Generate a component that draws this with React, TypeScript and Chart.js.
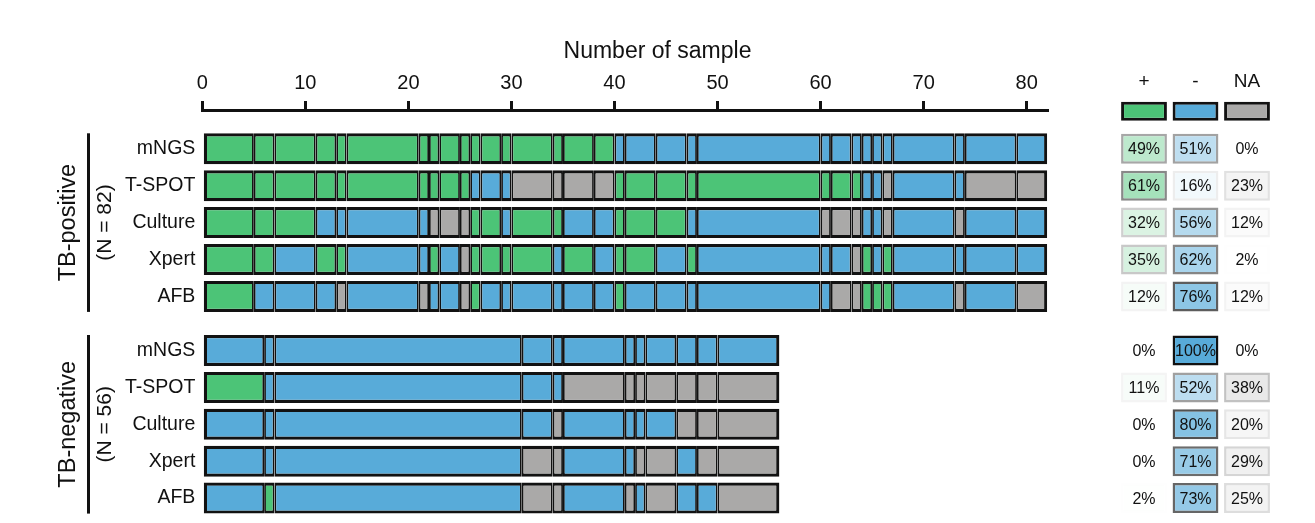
import React, { useEffect, useRef } from "react";
import { Chart, registerables } from "chart.js";

Chart.register(...registerables);

// ---------------- data ----------------
const tests = ["mNGS", "T-SPOT", "Culture", "Xpert", "AFB"];
const groupNames = ["TB-positive", "TB-negative"];
const groupSizes = [82, 56];
const xTickValues = [0, 10, 20, 30, 40, 50, 60, 70, 80];
const resultKeys = ["P", "N", "A"]; // positive, negative, not available
const resultLabels = ["+", "-", "NA"];

// widths (number of samples) of each column block, TB-positive group
const positiveWidths = [5, 2, 4, 2, 1, 7, 1, 1, 2, 1, 1, 2, 1, 4, 1, 3, 2, 1, 3, 3, 1, 12, 1, 2, 1, 1, 1, 1, 6, 1, 5, 3];
// result of each block per test (P = +, N = -, A = NA)
const positiveResults = [
  "PPPPP PPPPP PPPPP PP NNNNN NNNNN NNNNN",
  "PPPPP PPPPP NNN AAAA PPPPP PPP NN A NN AA",
  "PPP NNNN AAA PP N PP NN PPP NN AAA NN A N A NN",
  "PP N PP NN P N A PPPP N P N PP N P NNN A P N P NNNN",
  "P NNN A N A NN A P NNNNNN P NNNNN AA PPP N A N A",
];
const negativeWidths = [6, 1, 24, 3, 1, 6, 1, 1, 3, 2, 2, 6];
const negativeResults = [
  "NNNNNNNNNNNN",
  "P NNNN AAAAAAA",
  "NNNN A NNNN AAA",
  "NNN AA NN AA N AA",
  "N P N AA N A N A NN A",
];
// percentages shown in the table: [+, -, NA]
const positivePercent = [
  [49, 51, 0],
  [61, 16, 23],
  [32, 56, 12],
  [35, 62, 2],
  [12, 76, 12],
];
const negativePercent = [
  [0, 100, 0],
  [11, 52, 38],
  [0, 80, 20],
  [0, 71, 29],
  [2, 73, 25],
];

// ---------------- style / layout ----------------
const W = 1315;
const H = 523;
const FONT = "Arial, 'Liberation Sans', Helvetica, sans-serif";
const INK = "#111111";
const EDGE = "#121212";
const resultColors: Record<string, string> = { P: "#4cc477", N: "#58abd9", A: "#aaa9a8" };

const AREA_TOP = 110;
const AREA_LEFT = 202.3;
const AREA_RIGHT = 1047.3;
const ROW_PX = 36.9;
const ROW0_PX = 148.8;
const GROUP_GAP = 0.466;
const BAR_PX = 31;
const OUTER_EDGE = 3.2;
const INNER_EDGE = 1.8;
const TITLE_SIZE = 23;
const TITLE_PAD_TOP = 38.2;
const TITLE_PAD_BOTTOM = 4;

const TABLE_LEFT = 1100;
const TABLE_W = 215;
const TABLE_TOP = 96;
const TABLE_AREA_LEFT = 18.25;
const TABLE_AREA_RIGHT = 172.75;
const CELL_PX = 30;
const SWATCH_PX = 19;
const SWATCH_ROW = -1.02;
const CELL_FILL = 0.89;

const groups = [
  { widths: positiveWidths, results: positiveResults, pct: positivePercent },
  { widths: negativeWidths, results: negativeResults, pct: negativePercent },
];

const rowPos = (g: number, i: number) => g * (tests.length + GROUP_GAP) + i;
const rowValues: number[] = [];
const rowLabels: string[] = [];
groups.forEach((_, g) =>
  tests.forEach((t, i) => {
    rowValues.push(rowPos(g, i));
    rowLabels.push(t);
  })
);

const yMin = -(ROW0_PX - AREA_TOP) / ROW_PX;
const yMax = yMin + (H - AREA_TOP) / ROW_PX;
const tMin = -(ROW0_PX - TABLE_TOP) / ROW_PX;
const tMax = tMin + (H - TABLE_TOP) / ROW_PX;

// segments of the main chart
const segments: any[] = [];
groups.forEach((grp, g) => {
  grp.results.forEach((resStr, i) => {
    const res = resStr.replace(/\s/g, "");
    let start = 0;
    grp.widths.forEach((w, j) => {
      const end = start + w;
      segments.push({ x: [start, end], y: rowPos(g, i), r: res[j], total: groupSizes[g] });
      start = end;
    });
  });
});

// table cells
const cells: any[] = [];
groups.forEach((grp, g) => {
  grp.pct.forEach((row, i) => {
    row.forEach((v, c) => {
      cells.push({
        x: [c + (1 - CELL_FILL) / 2, c + (1 + CELL_FILL) / 2],
        y: rowPos(g, i),
        v,
        k: resultKeys[c],
      });
    });
  });
});
const swatches = resultKeys.map((k, c) => ({
  x: [c + (1 - CELL_FILL) / 2, c + (1 + CELL_FILL) / 2],
  y: SWATCH_ROW,
  k,
}));

const shade = (v: number) => Math.pow(Math.max(0, v) / 100, 1.4);
const tint = (hex: string, a: number) => {
  const n = parseInt(hex.slice(1), 16);
  const r = (n >> 16) & 255, g = (n >> 8) & 255, b = n & 255;
  const m = (c: number) => Math.round(255 - (255 - c) * a);
  return `rgb(${m(r)},${m(g)},${m(b)})`;
};
const edgeGray = (a: number) => {
  const l = Math.round(255 - 238 * a);
  return `rgb(${l},${l},${l})`;
};

// group labels at the left
const groupLabelPlugin = {
  id: "groupLabels",
  afterDraw(chart: any) {
    const ctx = chart.ctx;
    const ys = chart.scales.y;
    const left = chart.chartArea.left;
    groups.forEach((_, g) => {
      const top = ys.getPixelForValue(rowPos(g, 0)) - BAR_PX / 2;
      const bottom = ys.getPixelForValue(rowPos(g, tests.length - 1)) + BAR_PX / 2;
      const mid = (top + bottom) / 2;
      ctx.save();
      ctx.strokeStyle = INK;
      ctx.lineWidth = 3;
      ctx.beginPath();
      ctx.moveTo(left - 113.8, top);
      ctx.lineTo(left - 113.8, bottom);
      ctx.stroke();
      ctx.fillStyle = INK;
      ctx.textAlign = "center";
      ctx.textBaseline = "alphabetic";
      ctx.save();
      ctx.translate(left - 127.3, mid);
      ctx.rotate(-Math.PI / 2);
      ctx.font = `23.5px ${FONT}`;
      ctx.fillText(groupNames[g], 0, 0);
      ctx.restore();
      ctx.save();
      ctx.translate(left - 91.8, mid);
      ctx.rotate(-Math.PI / 2);
      ctx.font = `21px ${FONT}`;
      ctx.fillText(`(N = ${groupSizes[g]})`, 0, 0);
      ctx.restore();
      ctx.restore();
    });
  },
};

const cellTextPlugin = {
  id: "cellText",
  afterDatasetsDraw(chart: any) {
    const ctx = chart.ctx;
    const meta = chart.getDatasetMeta(0);
    const data = chart.data.datasets[0].data as any[];
    ctx.save();
    ctx.font = `16px ${FONT}`;
    ctx.fillStyle = INK;
    ctx.textAlign = "center";
    ctx.textBaseline = "middle";
    meta.data.forEach((el: any, i: number) => {
      const p = el.getCenterPoint();
      ctx.fillText(`${data[i].v}%`, p.x, p.y + 1);
    });
    ctx.restore();
  },
};

const noPad = (s: any) => {
  s.paddingTop = 0;
  s.paddingBottom = 0;
};

export default function App() {
  const mainRef = useRef<HTMLCanvasElement>(null);
  const tableRef = useRef<HTMLCanvasElement>(null);

  useEffect(() => {
    document.body.style.margin = "0";
    const titleBox = TITLE_PAD_TOP + TITLE_SIZE * 1.2 + TITLE_PAD_BOTTOM;

    const main = new Chart(mainRef.current as HTMLCanvasElement, {
      type: "bar",
      data: {
        datasets: [
          {
            data: segments,
            xAxisID: "x",
            yAxisID: "y",
            grouped: false,
            barPercentage: 1,
            categoryPercentage: 1,
            maxBarThickness: BAR_PX,
            inflateAmount: 0,
            borderSkipped: false,
            backgroundColor: (c: any) => (c.raw ? resultColors[c.raw.r] : "#ccc"),
            borderColor: EDGE,
            borderWidth: (c: any) =>
              c.raw
                ? {
                    top: OUTER_EDGE,
                    bottom: OUTER_EDGE,
                    left: c.raw.x[0] === 0 ? OUTER_EDGE : INNER_EDGE,
                    right: c.raw.x[1] === c.raw.total ? OUTER_EDGE : INNER_EDGE,
                  }
                : INNER_EDGE,
          } as any,
        ],
      },
      options: {
        indexAxis: "y",
        responsive: false,
        animation: false,
        devicePixelRatio: 1,
        events: [],
        layout: { padding: 0 },
        plugins: {
          legend: { display: false },
          tooltip: { enabled: false },
          title: {
            display: true,
            text: "Number of sample",
            color: INK,
            font: { family: FONT, size: TITLE_SIZE, weight: "normal" },
            padding: { top: TITLE_PAD_TOP, bottom: TITLE_PAD_BOTTOM },
          },
        },
        scales: {
          x: {
            type: "linear",
            position: "top",
            offset: false,
            min: 0,
            max: groupSizes[0],
            afterBuildTicks: (s: any) => {
              s.ticks = xTickValues.map((v) => ({ value: v }));
            },
            ticks: {
              color: INK,
              font: { family: FONT, size: 20 },
              padding: 6,
              maxRotation: 0,
              autoSkip: false,
            },
            grid: {
              drawOnChartArea: false,
              drawTicks: true,
              tickLength: 9,
              lineWidth: 3,
              color: INK,
            },
            border: { display: true, width: 3, color: INK },
            afterFit: (s: any) => {
              s.height = AREA_TOP - titleBox;
            },
          },
          y: {
            type: "linear",
            position: "left",
            offset: false,
            reverse: true,
            min: yMin,
            max: yMax,
            afterBuildTicks: (s: any) => {
              s.ticks = rowValues.map((v) => ({ value: v }));
            },
            ticks: {
              color: INK,
              font: { family: FONT, size: 19.5 },
              padding: 7,
              autoSkip: false,
              callback: (_v: any, i: number) => rowLabels[i],
            },
            grid: { display: false, drawTicks: false, offset: false },
            border: { display: false },
            afterFit: (s: any) => {
              s.width = AREA_LEFT;
              noPad(s);
            },
          },
          yR: {
            type: "linear",
            position: "right",
            display: true,
            offset: false,
            ticks: { display: false },
            grid: { display: false, drawTicks: false },
            border: { display: false },
            afterFit: (s: any) => {
              s.width = W - AREA_RIGHT;
              noPad(s);
            },
          },
        },
      } as any,
      plugins: [groupLabelPlugin],
    });

    const table = new Chart(tableRef.current as HTMLCanvasElement, {
      type: "bar",
      data: {
        datasets: [
          {
            data: cells,
            xAxisID: "x",
            yAxisID: "y",
            grouped: false,
            barPercentage: 1,
            categoryPercentage: 1,
            maxBarThickness: CELL_PX,
            inflateAmount: 0,
            borderSkipped: false,
            clip: false,
            backgroundColor: (c: any) => (c.raw ? tint(resultColors[c.raw.k], shade(c.raw.v)) : "#fff"),
            borderColor: (c: any) => (c.raw ? edgeGray(shade(c.raw.v)) : "#fff"),
            borderWidth: 2.5,
          } as any,
          {
            data: swatches,
            xAxisID: "x",
            yAxisID: "y",
            grouped: false,
            barPercentage: 1,
            categoryPercentage: 1,
            maxBarThickness: SWATCH_PX,
            inflateAmount: 0,
            borderSkipped: false,
            clip: false,
            backgroundColor: (c: any) => (c.raw ? resultColors[c.raw.k] : "#fff"),
            borderColor: EDGE,
            borderWidth: 3,
          } as any,
        ],
      },
      options: {
        indexAxis: "y",
        responsive: false,
        animation: false,
        devicePixelRatio: 1,
        events: [],
        layout: { padding: { left: TABLE_AREA_LEFT, right: TABLE_W - TABLE_AREA_RIGHT, top: 0, bottom: 0 } },
        plugins: { legend: { display: false }, tooltip: { enabled: false }, title: { display: false } },
        scales: {
          x: {
            type: "linear",
            position: "top",
            offset: false,
            min: 0,
            max: resultKeys.length,
            afterBuildTicks: (s: any) => {
              s.ticks = resultLabels.map((_, i) => ({ value: i + 0.5 }));
            },
            ticks: {
              color: INK,
              font: { family: FONT, size: 19 },
              padding: 2.6,
              maxRotation: 0,
              autoSkip: false,
              callback: (_v: any, i: number) => resultLabels[i],
            },
            grid: { display: false, drawTicks: false },
            border: { display: false },
            afterFit: (s: any) => {
              s.height = TABLE_TOP;
              s.paddingLeft = 0;
              s.paddingRight = 0;
            },
          },
          y: {
            type: "linear",
            display: false,
            offset: false,
            reverse: true,
            min: tMin,
            max: tMax,
            afterBuildTicks: (s: any) => {
              s.ticks = rowValues.map((v) => ({ value: v }));
            },
          },
        },
      } as any,
      plugins: [cellTextPlugin],
    });

    return () => {
      main.destroy();
      table.destroy();
    };
  }, []);

  return (
    <div style={{ position: "absolute", left: 0, top: 0, width: W, height: H, background: "#fff" }}>
      <canvas
        ref={mainRef}
        width={W}
        height={H}
        style={{ position: "absolute", left: 0, top: 0, width: W, height: H }}
      />
      <canvas
        ref={tableRef}
        width={TABLE_W}
        height={H}
        style={{ position: "absolute", left: TABLE_LEFT, top: 0, width: TABLE_W, height: H }}
      />
    </div>
  );
}
